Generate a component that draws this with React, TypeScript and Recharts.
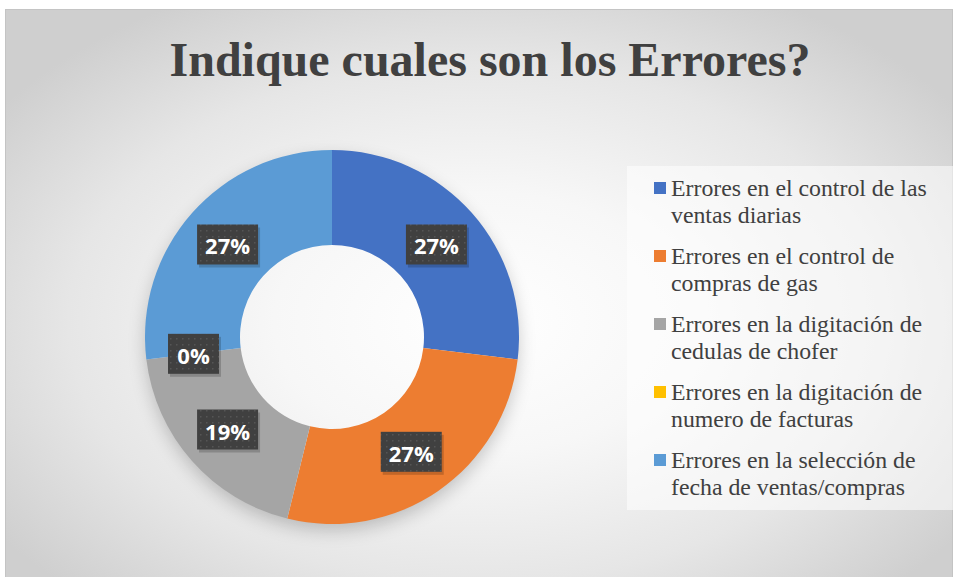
import React from "react";
import { PieChart, Pie, Cell, Legend } from "recharts";

const categories = [
  "Errores en el control de las ventas diarias",
  "Errores en el control de compras de gas",
  "Errores en la digitación de cedulas de chofer",
  "Errores en la digitación de numero de facturas",
  "Errores en la selección de fecha de ventas/compras",
];
const counts = [7, 7, 5, 0, 7];
const colors = ["#4472C4", "#ED7D31", "#A5A5A5", "#FFC000", "#5B9BD5"];
const title = "Indique cuales son los Errores?";

const data = categories.map((name, i) => ({ name, value: counts[i] }));

const RAD = Math.PI / 180;

const renderLabel = (props: any) => {
  const { cx, cy, midAngle, innerRadius, outerRadius, percent, index } = props;
  const r = (innerRadius + outerRadius) / 2;
  const x = cx + r * Math.cos(-midAngle * RAD);
  const y = cy + r * Math.sin(-midAngle * RAD);
  const txt = `${Math.round(percent * 100)}%`;
  const w = txt.length === 2 ? 51 : 61;
  const h = 40;
  const pid = `dots-${index}`;
  return (
    <g key={`lbl-${index}`}>
      <defs>
        <pattern id={pid} width="6" height="6" patternUnits="userSpaceOnUse">
          <rect width="6" height="6" fill="#404040" />
          <rect x="2" y="2" width="1.5" height="1.5" fill="#555555" />
        </pattern>
      </defs>
      <rect x={x - w / 2 + 2} y={y - h / 2 + 3} width={w} height={h} fill="rgba(0,0,0,0.18)" />
      <rect x={x - w / 2} y={y - h / 2} width={w} height={h} fill={`url(#${pid})`} />
      <text
        x={x}
        y={y + 1}
        fill="#ffffff"
        textAnchor="middle"
        dominantBaseline="central"
        style={{ fontFamily: "'Open Sans', 'Liberation Sans', sans-serif", fontWeight: 700, fontSize: 22 }}
      >
        {txt}
      </text>
    </g>
  );
};

const renderLegend = () => (
  <div
    style={{
      width: 328,
      height: 344,
      background: "rgba(255,255,255,0.55)",
      boxSizing: "border-box",
      paddingTop: 9,
      paddingLeft: 27,
    }}
  >
    {categories.map((name, i) => (
      <div key={name} style={{ display: "flex", alignItems: "flex-start", marginBottom: 14 }}>
        <div style={{ width: 12, height: 12, background: colors[i], marginTop: 7, marginRight: 5, flex: "none" }} />
        <div
          style={{
            width: 272,
            fontFamily: "'Liberation Serif', 'Times New Roman', serif",
            fontSize: 23.8,
            lineHeight: "27px",
            color: "#404040",
          }}
        >
          {name}
        </div>
      </div>
    ))}
  </div>
);

export default function App() {
  return (
    <div
      style={{
        position: "fixed",
        left: 0,
        top: 0,
        width: 957,
        height: 577,
        overflow: "hidden",
        background: "#ffffff",
      }}
    >
      <div
        style={{
          position: "absolute",
          left: 5,
          top: 9,
          width: 946,
          height: 600,
          border: "1px solid #c4c4c4",
          background:
            "radial-gradient(ellipse 62% 62% at 50% 52%, #ffffff 0%, #f7f7f7 35%, #e6e6e6 70%, #cfcfcf 100%)",
        }}
      />
      <div
        style={{
          position: "absolute",
          left: 332 - 186,
          top: 337 - 186,
          width: 372,
          height: 372,
          borderRadius: "50%",
          boxShadow: "0 7px 18px rgba(0,0,0,0.22)",
        }}
      />
      <div
        style={{
          position: "absolute",
          left: 0,
          top: 32,
          width: 980,
          textAlign: "center",
          fontFamily: "'Liberation Serif', 'Times New Roman', serif",
          fontWeight: 700,
          fontSize: 48,
          lineHeight: "56px",
          color: "#404040",
        }}
      >
        {title}
      </div>
      <div style={{ position: "absolute", left: 0, top: 0 }}>
        <PieChart width={957} height={577} margin={{ top: 0, right: 0, bottom: 0, left: 0 }}>
          <Pie
            data={data}
            dataKey="value"
            nameKey="name"
            cx={332}
            cy={337}
            outerRadius={187}
            innerRadius={92}
            startAngle={90}
            endAngle={-270}
            stroke="none"
            label={renderLabel}
            labelLine={false}
            isAnimationActive={false}
          >
            {data.map((d, i) => (
              <Cell key={d.name} fill={colors[i]} />
            ))}
          </Pie>
          <Legend
            content={renderLegend}
            layout="vertical"
            wrapperStyle={{ position: "absolute", left: 627, top: 166, width: 328, height: 344 }}
          />
        </PieChart>
      </div>
    </div>
  );
}
